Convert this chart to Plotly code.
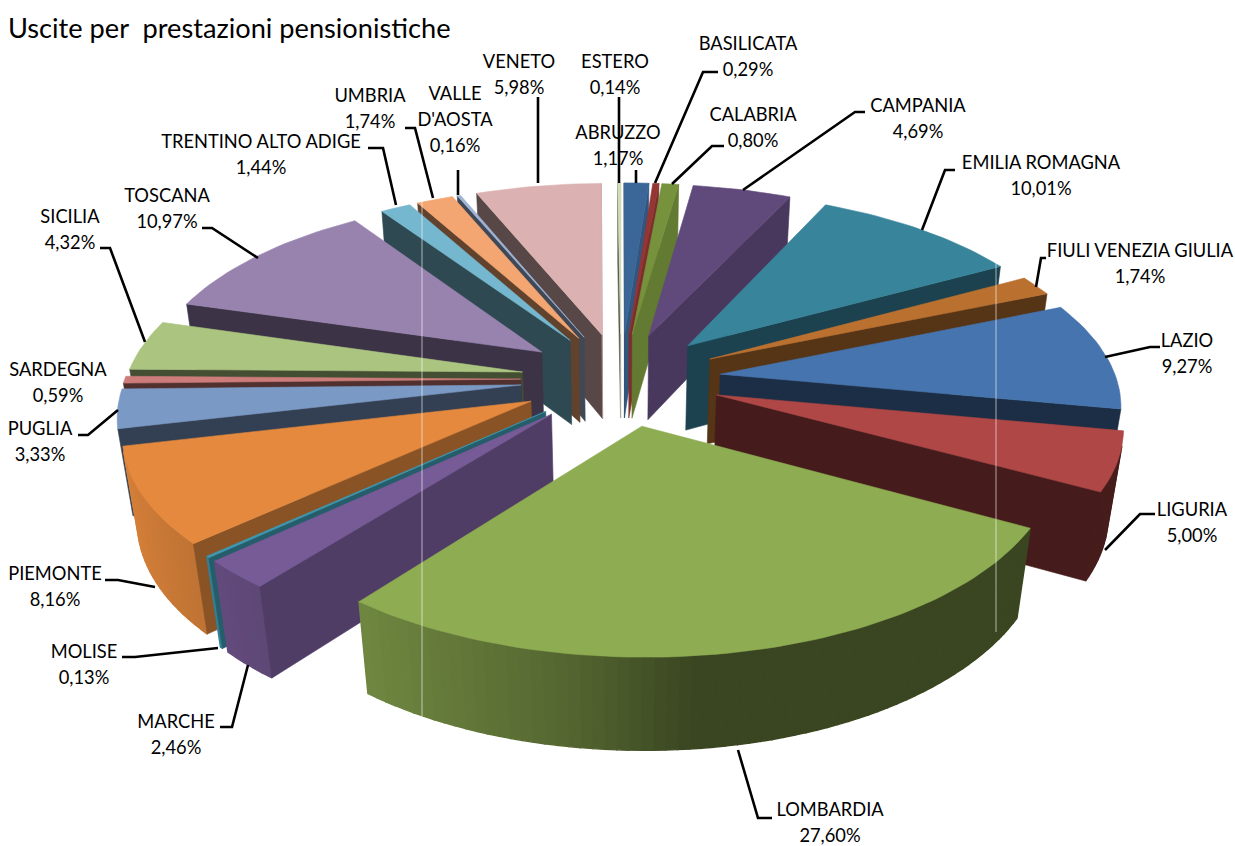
import math
import plotly.graph_objects as go

# ---- data ----
categories = ["ABRUZZO", "BASILICATA", "CALABRIA", "CAMPANIA", "EMILIA ROMAGNA",
              "FIULI VENEZIA GIULIA", "LAZIO", "LIGURIA", "LOMBARDIA", "MARCHE",
              "MOLISE", "PIEMONTE", "PUGLIA", "SARDEGNA", "SICILIA", "TOSCANA",
              "TRENTINO ALTO ADIGE", "UMBRIA", "VALLE D'AOSTA", "VENETO", "ESTERO"]
values = [1.17, 0.29, 0.80, 4.69, 10.01, 1.74, 9.27, 5.00, 27.60, 2.46,
          0.13, 8.16, 3.33, 0.59, 4.32, 10.97, 1.44, 1.74, 0.16, 5.98, 0.14]
colors = ["#3A6698", "#943634", "#76923C", "#604A7B", "#37849B", "#BA7130",
          "#4674AE", "#AE4745", "#8EAC52", "#775B96", "#3D99B1", "#E4893E",
          "#7A99C5", "#CC7C7A", "#ABC480", "#9883AF", "#74B7CE", "#F4A672",
          "#A0B4D6", "#DBB2B1", "#D2DDB8"]
title = "Uscite per  prestazioni pensionistiche"

# ---- projection of the exploded 3D pie ----
CX, CY = 621, 379
KX, KY, KZ = 396, 184, 88
P, Q = 0.14, 0.03
EXPLODE = 0.253


def proj(x, y, z):
    w = 1 + P * y - Q * z
    return CX + KX * x / w, CY - (KY * y + KZ * z) / w


def shade(hex_color, f):
    r, g, b = (int(hex_color[i:i + 2], 16) for i in (1, 3, 5))
    return f"rgb({min(255, int(r * f))},{min(255, int(g * f))},{min(255, int(b * f))})"


def area(pts):
    return sum(pts[i][0] * pts[(i + 1) % len(pts)][1] - pts[(i + 1) % len(pts)][0] * pts[i][1]
               for i in range(len(pts)))


def wall_light(nx):
    f = 0.6 - 0.42 * (nx + 0.17) if nx < -0.17 else 0.6 - 0.7 * (nx + 0.17)
    return max(0.41, f)


fig = go.Figure()


def poly(pts, color, lw=0.6):
    xs = [p[0] for p in pts] + [pts[0][0]]
    ys = [p[1] for p in pts] + [pts[0][1]]
    fig.add_trace(go.Scatter(x=xs, y=ys, mode="lines", fill="toself", fillcolor=color,
                             line=dict(color=color, width=lw), hoverinfo="skip",
                             showlegend=False))


total = sum(values)
slices = []
cum = 0.0
for name, val, col in zip(categories, values, colors):
    a0 = cum / total * 2 * math.pi
    cum += val
    a1 = cum / total * 2 * math.pi
    slices.append((a0, a1, col))


def key(s):
    m = (s[0] + s[1]) / 2
    return min(m, 2 * math.pi - m)


for a0, a1, col in sorted(slices, key=key):
    m = (a0 + a1) / 2
    ox, oy = EXPLODE * math.sin(m), EXPLODE * math.cos(m)
    rim = lambda t, z: proj(ox + math.sin(t), oy + math.cos(t), z)
    apex_top, apex_bot = proj(ox, oy, 0), proj(ox, oy, -1)

    # outer wall, cut into strips to carry the gradient
    n = max(1, int((a1 - a0) / math.radians(1.5)))
    for i in range(n):
        t0 = a0 + (a1 - a0) * i / n
        t1 = a0 + (a1 - a0) * (i + 1) / n
        q = [rim(t0, 0), rim(t1, 0), rim(t1, -1), rim(t0, -1)]
        if area(q) < 0:
            nx = math.sin((t0 + t1) / 2)
            poly(q, shade(col, wall_light(nx)), 1.4)
    # start radial wall
    q = [apex_top, rim(a0, 0), rim(a0, -1), apex_bot]
    if area(q) < 0:
        nx = -math.cos(a0)
        poly(q, shade(col, 0.4 + 0.45 * max(0, nx) ** 2))
    # end radial wall
    q = [apex_top, rim(a1, 0), rim(a1, -1), apex_bot]
    if area(q) > 0:
        nx = math.cos(a1)
        poly(q, shade(col, 0.4 + 0.45 * max(0, nx) ** 2))
    # top face
    n = max(2, int((a1 - a0) / math.radians(1.5)))
    poly([apex_top] + [rim(a0 + (a1 - a0) * i / n, 0) for i in range(n + 1)], col)

# pale vertical streaks seen across the reference
for sx, y0, y1 in [(422, 200, 716), (996, 262, 632)]:
    fig.add_trace(go.Scatter(x=[sx, sx], y=[y0, y1], mode="lines",
                             line=dict(color="rgba(255,255,255,0.6)", width=1),
                             hoverinfo="skip", showlegend=False))

# ---- data labels: text centre of the name line, and leader line ----
label_layout = {
    "ESTERO": (615, 63, [(619, 97), (619, 183)]),
    "ABRUZZO": (618, 134, [(636, 170), (636, 183)]),
    "BASILICATA": (748, 45, [(718, 72), (703, 72), (655, 183)]),
    "CALABRIA": (753, 116, [(724, 146), (712, 146), (672, 184)]),
    "CAMPANIA": (918, 107, [(865, 112), (855, 112), (743, 190)]),
    "EMILIA ROMAGNA": (1041, 164, [(955, 170), (945, 170), (922, 230)]),
    "FIULI VENEZIA GIULIA": (1140, 252, [(1046, 258), (1041, 258), (1036, 287)]),
    "LAZIO": (1187, 342, [(1160, 347), (1150, 347), (1105, 357)]),
    "LIGURIA": (1192, 511, [(1155, 514), (1140, 514), (1105, 550)]),
    "LOMBARDIA": (830, 811, [(772, 818), (758, 818), (738, 750)]),
    "MARCHE": (176, 723, [(220, 727), (232, 727), (248, 665)]),
    "MOLISE": (84, 653, [(122, 657), (135, 657), (218, 648)]),
    "PIEMONTE": (55, 575, [(105, 580), (118, 580), (155, 587)]),
    "PUGLIA": (40, 430, [(78, 435), (88, 435), (118, 410)]),
    "SARDEGNA": (58, 371, []),
    "SICILIA": (70, 218, [(100, 248), (110, 248), (145, 342)]),
    "TOSCANA": (167, 197, [(202, 228), (212, 228), (258, 258)]),
    "TRENTINO ALTO ADIGE": (261, 143, [(368, 148), (383, 148), (396, 205)]),
    "UMBRIA": (370, 97, [(405, 128), (415, 128), (433, 198)]),
    "VALLE D'AOSTA": (455, 95, [(458, 170), (458, 195)]),
    "VENETO": (519, 63, [(538, 97), (538, 183)]),
}
LINE_GAP = 26.3
tx, ty, tt = [], [], []
for name, val in zip(categories, values):
    lx, ly, leader = label_layout[name]
    lines = ["VALLE", "D'AOSTA"] if name == "VALLE D'AOSTA" else [name]
    lines.append(f"{val:.2f}".replace(".", ",") + "%")
    for i, s in enumerate(lines):
        tx.append(lx)
        ty.append(ly + i * LINE_GAP)
        tt.append(s)
    if leader:
        fig.add_trace(go.Scatter(x=[p[0] for p in leader], y=[p[1] for p in leader], mode="lines",
                                 line=dict(color="black", width=2.6), hoverinfo="skip",
                                 showlegend=False))
fig.add_trace(go.Scatter(x=tx, y=ty, mode="text", text=tt, textposition="middle center",
                         textfont=dict(family="Lato", size=18.3, color="black"),
                         hoverinfo="skip", showlegend=False))

fig.add_annotation(x=6, y=27, xref="x", yref="y", text=title, showarrow=False, xanchor="left",
                   font=dict(family="Lato", size=27.2, color="black"))

fig.update_layout(width=1235, height=846, margin=dict(l=0, r=0, t=0, b=0),
                  paper_bgcolor="white", plot_bgcolor="white", showlegend=False,
                  xaxis=dict(range=[0, 1235], visible=False, fixedrange=True),
                  yaxis=dict(range=[846, 0], visible=False, fixedrange=True))
fig.write_html("out.html", config=dict(displayModeBar=False),
               post_script="document.body.style.margin='0';document.documentElement.style.overflow='hidden';")
